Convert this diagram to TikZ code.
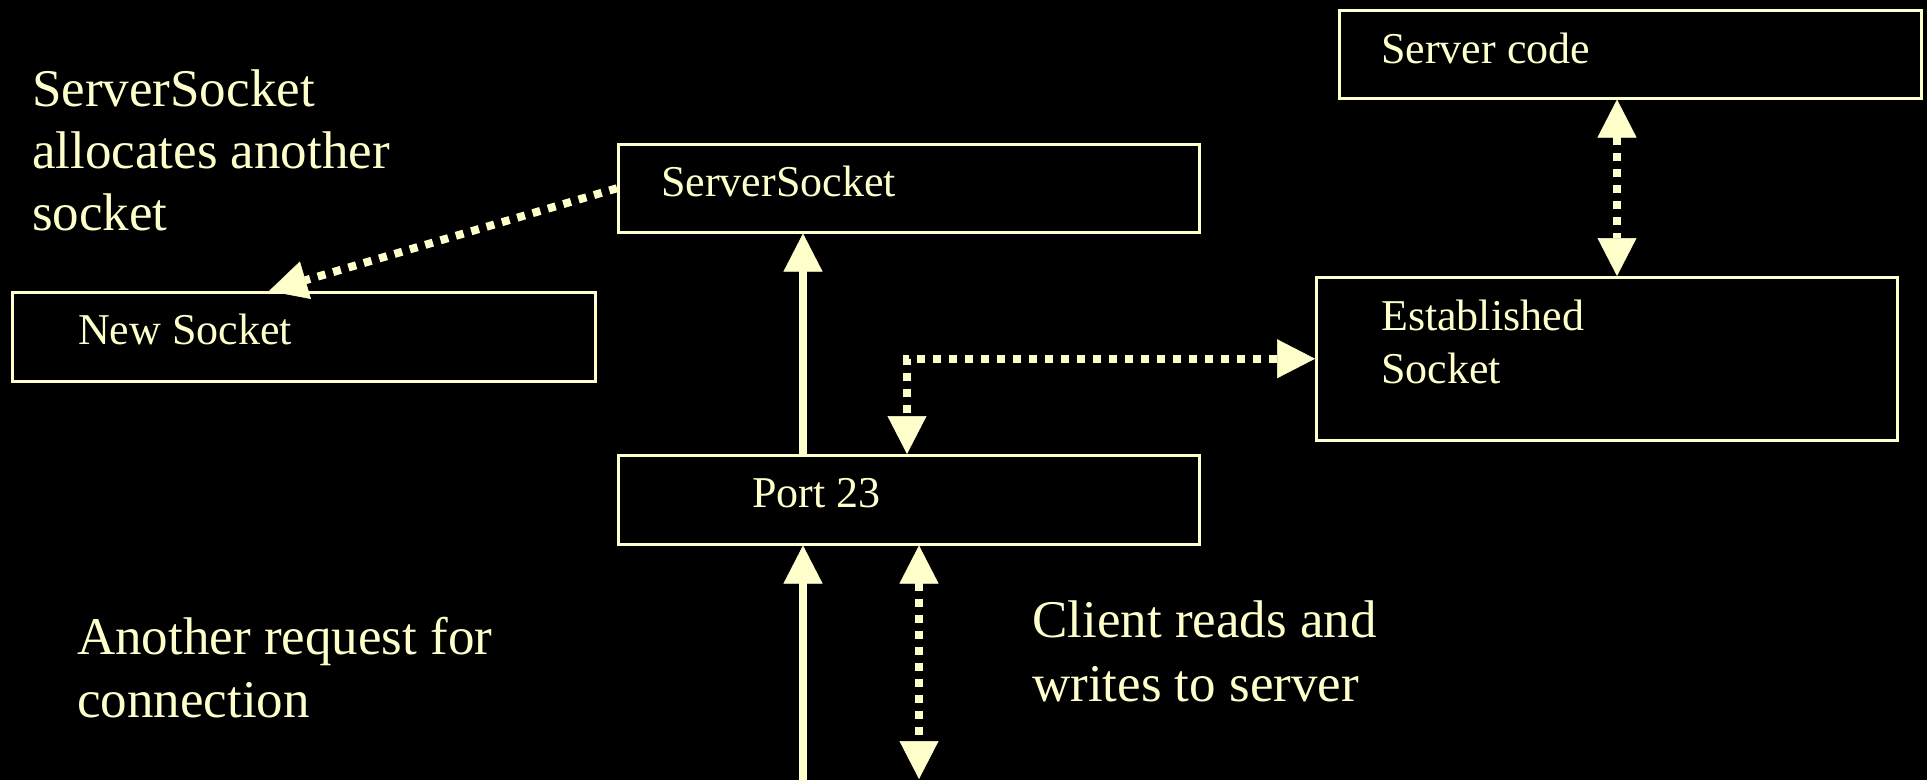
\documentclass[tikz,border=0pt]{standalone}
\usepackage{fontspec}
\setmainfont{Liberation Serif}
\usetikzlibrary{arrows.meta}
\definecolor{cream}{HTML}{FFFFCC}
\tikzset{bigtip/.tip={Triangle[length=38pt,width=39pt,line width=0.5pt]}}
\begin{document}
\begin{tikzpicture}[x=1pt,y=-1pt,
  box/.style={draw=cream,line width=2.5pt,anchor=north west,inner sep=0pt},
  boxtext/.style={text=cream,font=\rmfamily\fontsize{44}{53}\selectfont,anchor=base west,inner sep=0pt},
  lbl/.style={text=cream,font=\rmfamily\fontsize{53}{64}\selectfont,anchor=base west,inner sep=0pt},
  solidarrow/.style={draw=cream,line width=8pt},
  dotarrow/.style={draw=cream,line width=8pt,dash pattern=on 8pt off 8pt}]
\fill[black] (0,0) rectangle (1927,780);
\useasboundingbox (0,0) rectangle (1927,780);
% boxes
\node[box,minimum width=582pt,minimum height=88pt] (code) at (1338,9) {};
\node[box,minimum width=581pt,minimum height=88pt] (ss) at (617,143) {};
\node[box,minimum width=583pt,minimum height=89pt] (ns) at (11,291) {};
\node[box,minimum width=581pt,minimum height=163pt] (est) at (1315,276) {};
\node[box,minimum width=581pt,minimum height=89pt] (port) at (617,454) {};
% box texts
\node[boxtext] (tcode) at (1381,63) {Server code};
\node[boxtext] (tss) at (661,196) {ServerSocket};
\node[boxtext] (tns) at (78,344) {New Socket};
\node[boxtext] (test1) at (1381,330) {Established};
\node[boxtext] (test2) at (1381,383) {Socket};
\node[boxtext] (tport) at (752,507) {Port 23};
% labels
\node[lbl] (la1) at (32,106) {ServerSocket};
\node[lbl] (la2) at (32,168) {allocates another};
\node[lbl] (la3) at (32,230) {socket};
\node[lbl] (lb1) at (77,654) {Another request for};
\node[lbl] (lb2) at (77,717) {connection};
\node[lbl] (lc1) at (1032,637) {Client reads and};
\node[lbl] (lc2) at (1032,701) {writes to server};
% free ends
\coordinate (inA) at (803,782);
\coordinate (outB) at (919,779);
% connectors
\draw[dotarrow,-{bigtip}] (ss.west) -- ([xshift=258pt]ns.north west);
\draw[solidarrow,-{bigtip}] ([xshift=186pt]port.north west) -- ([xshift=186pt]ss.south west);
\draw[dotarrow,{bigtip}-{bigtip}] (est.west) -| ([xshift=290pt]port.north west);
\draw[dotarrow,{bigtip}-{bigtip}] ([xshift=279pt]code.south west) -- ([xshift=302pt]est.north west);
\draw[solidarrow,-{bigtip}] (inA) -- ([xshift=186pt]port.south west);
\draw[dotarrow,{bigtip}-{bigtip}] ([xshift=302pt]port.south west) -- (outB);
\end{tikzpicture}
\end{document}
